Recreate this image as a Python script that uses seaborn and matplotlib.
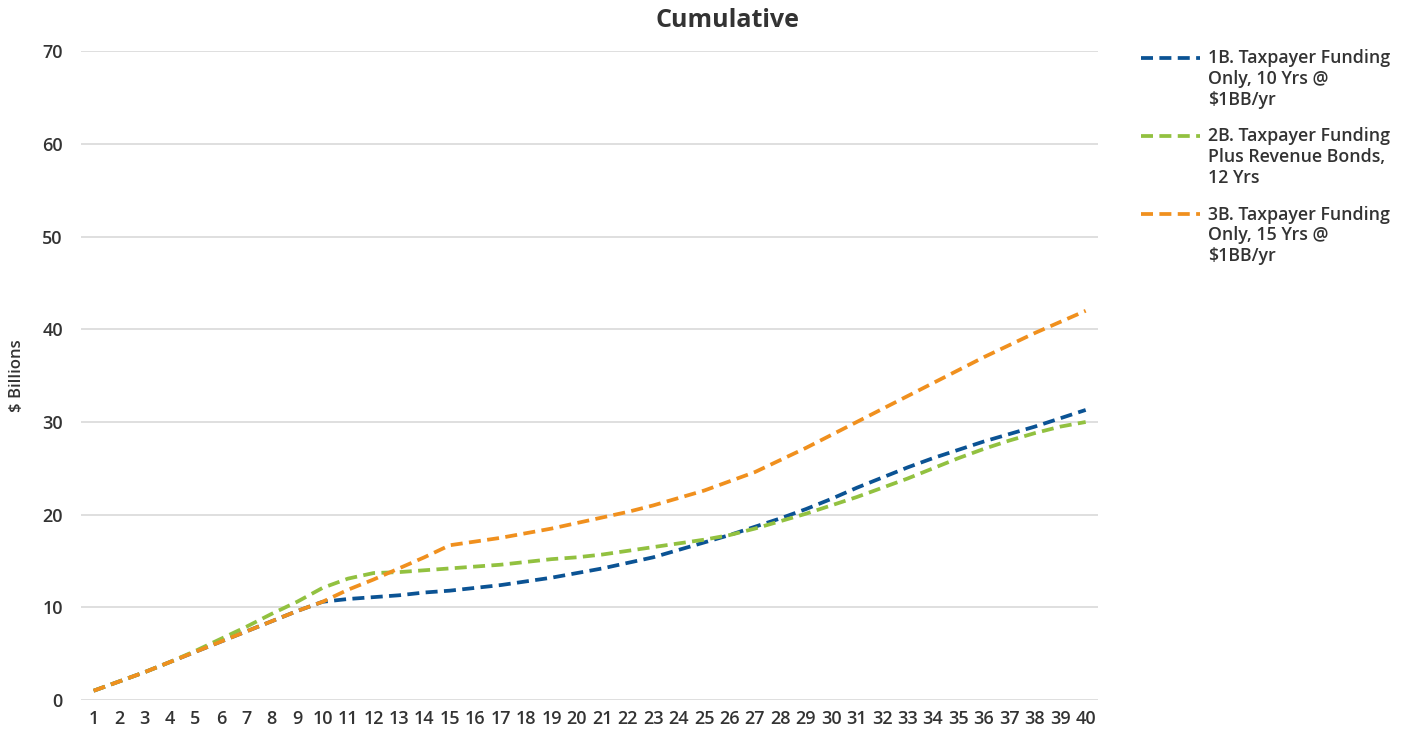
import numpy as np
import pandas as pd
import matplotlib
matplotlib.use("Agg")
import matplotlib.pyplot as plt
import seaborn as sns
from matplotlib.legend_handler import HandlerLine2D

years = list(range(1, 41))

s1b = [1.0, 2.0, 3.0, 4.1, 5.2, 6.3, 7.4, 8.5, 9.6, 10.6,
       10.9, 11.1, 11.3, 11.6, 11.8, 12.1, 12.4, 12.8, 13.2, 13.7,
       14.2, 14.8, 15.4, 16.2, 17.0, 17.8, 18.7, 19.6, 20.6, 21.7,
       22.9, 24.0, 25.1, 26.1, 27.0, 27.9, 28.7, 29.5, 30.4, 31.3]

s2b = [1.0, 2.0, 3.0, 4.1, 5.3, 6.6, 7.9, 9.3, 10.6, 12.1,
       13.1, 13.7, 13.8, 14.0, 14.2, 14.4, 14.6, 14.9, 15.2, 15.4,
       15.7, 16.1, 16.5, 16.9, 17.3, 17.8, 18.5, 19.3, 20.1, 21.0,
       21.9, 22.9, 23.9, 25.0, 26.1, 27.1, 28.0, 28.8, 29.5, 30.0]

s3b = [1.0, 2.0, 3.0, 4.1, 5.2, 6.3, 7.4, 8.5, 9.6, 10.6,
       11.9, 13.0, 14.2, 15.4, 16.7, 17.1, 17.5, 18.0, 18.5, 19.1,
       19.7, 20.3, 21.0, 21.8, 22.6, 23.6, 24.6, 25.9, 27.2, 28.6,
       30.0, 31.4, 32.8, 34.2, 35.6, 37.0, 38.3, 39.6, 40.8, 42.0]

labels = ["1B. Taxpayer Funding\nOnly, 10 Yrs @\n$1BB/yr",
          "2B. Taxpayer Funding\nPlus Revenue Bonds,\n12 Yrs",
          "3B. Taxpayer Funding\nOnly, 15 Yrs @\n$1BB/yr"]
colors = ["#0B5394", "#92C140", "#F0901E"]

df = pd.DataFrame({
    "Year": years * 3,
    "Value": s1b + s2b + s3b,
    "Series": [labels[0]] * 40 + [labels[1]] * 40 + [labels[2]] * 40,
})

sns.set_theme(style="white")
plt.rcParams["font.family"] = ["Open Sans", "DejaVu Sans"]

fig = plt.figure(figsize=(14.1, 7.33), dpi=100)
ax = fig.add_axes([0.0574, 0.045, 0.7216, 0.885])

sns.lineplot(data=df, x="Year", y="Value", hue="Series", style="Series",
             palette=dict(zip(labels, colors)),
             dashes={l: (3.2, 1.7) for l in labels},
             linewidth=2.7, ax=ax, legend=True)

ax.set_xlim(0.5, 40.5)
ax.set_ylim(0, 70)
ax.set_xticks(years)
ax.set_xticklabels([str(y) for y in years])
ax.set_yticks(range(0, 71, 10))
ax.yaxis.grid(True, color="#D9D9D9", linewidth=1.2)
ax.xaxis.grid(False)
ax.set_axisbelow(True)
for sp in ax.spines.values():
    sp.set_visible(False)
ax.tick_params(axis="both", length=0, labelsize=13, labelcolor="#333333")
ax.tick_params(axis="x", pad=7)
ax.tick_params(axis="y", pad=13)
for t in ax.get_xticklabels() + ax.get_yticklabels():
    t.set_fontweight("semibold")
ax.set_xlabel("")
ax.set_ylabel("$ Billions", fontsize=12, color="#333333", fontweight="semibold")
ax.yaxis.set_label_coords(-0.055, 0.5)
ax.set_title("")
fig.text(0.516, 0.972, "Cumulative", ha="center", va="center",
         fontsize=18, fontweight="bold", color="#333333")


class TopHandler(HandlerLine2D):
    def create_artists(self, legend, orig_handle, xdescent, ydescent,
                       width, height, fontsize, trans):
        arts = super().create_artists(legend, orig_handle, xdescent, ydescent,
                                      width, height, fontsize, trans)
        for a in arts:
            a.set_ydata(np.asarray(a.get_ydata(), dtype=float) + fontsize * 1.22)
        return arts


handles, labs = ax.get_legend_handles_labels()
ax.get_legend().remove()
fig.legend(handles, labs, loc="upper left", bbox_to_anchor=(0.798, 0.955),
           frameon=False, labelcolor="#333333",
           handlelength=3.3, handletextpad=0.45, labelspacing=1.05,
           prop={"weight": "semibold", "size": 12.8},
           handler_map={h: TopHandler() for h in handles})

fig.savefig("out.png", dpi=100)
